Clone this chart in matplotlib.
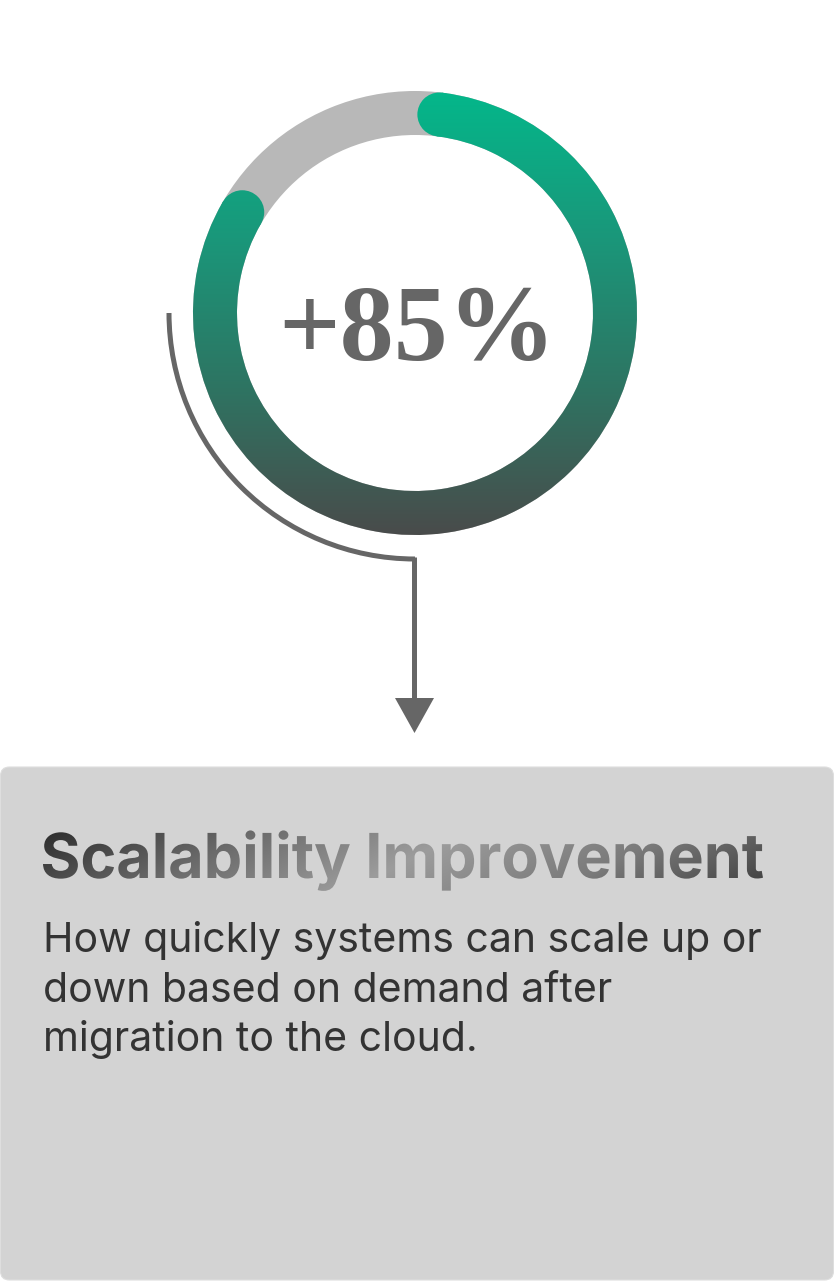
import numpy as np
import matplotlib
matplotlib.use("Agg")
import matplotlib.pyplot as plt
from matplotlib.patches import Wedge, Circle, FancyBboxPatch, PathPatch, Polygon, Arc
from matplotlib.textpath import TextPath
from matplotlib.font_manager import FontProperties
from matplotlib.colors import LinearSegmentedColormap
from matplotlib.transforms import Affine2D

# ---------------- data ----------------
value_pct = 85
value_label = "+85%"
title = "Scalability Improvement"
body_lines = ["How quickly systems can scale up or",
              "down based on demand after",
              "migration to the cloud."]

# ---------------- figure in pixel units ----------------
W, H = 834, 1281
fig = plt.figure(figsize=(W / 100, H / 100), dpi=100)
ax = fig.add_axes([0, 0, 1, 1])
ax.set_xlim(0, W)
ax.set_ylim(0, H)
ax.set_aspect("equal")
ax.axis("off")

def Y(y):  # convert top-down pixel to data
    return H - y

PX = 0.72  # points per pixel at dpi 100

# ---------------- gauge ----------------
cx, cy = 415, Y(313)
r_out, ring_w = 222, 44
r_mid = r_out - ring_w / 2
start_angle = 83.0             # degrees (math), near 12 o'clock
span_total = 345.0              # full gauge span
sweep = value_pct / 100 * span_total
end_angle = start_angle - sweep

# background ring
ax.add_patch(Wedge((cx, cy), r_out, 0, 360, width=ring_w, facecolor="#b8b8b8",
                   edgecolor="none", zorder=1))

# gradient image (vertical)
grad_cmap = LinearSegmentedColormap.from_list(
    "g", ["#03b88b", "#1a977a", "#2e7462", "#4a4a4a"])
top_y, bot_y = cy + r_out, cy - r_out
grad = np.linspace(0, 1, 256).reshape(-1, 1)
clips = [Wedge((cx, cy), r_out, end_angle, start_angle, width=ring_w)]
for a in (start_angle, end_angle):
    clips.append(Circle((cx + r_mid * np.cos(np.radians(a)),
                         cy + r_mid * np.sin(np.radians(a))), ring_w / 2))
for c in clips:
    c.set_transform(ax.transData)
    im = ax.imshow(grad, cmap=grad_cmap, aspect="auto",
                   extent=(cx - r_out - 5, cx + r_out + 5, bot_y - 5, top_y + 5),
                   origin="upper", zorder=2, interpolation="bicubic")
    im.set_clip_path(c)

# value text
ax.text(417, Y(360), value_label, ha="center", va="baseline",
        fontsize=108 * PX, family="Liberation Serif", fontweight="bold",
        color="#666666", zorder=3)

# ---------------- connector ----------------
line_c = "#666666"
r_conn = 246
ax.add_patch(Arc((cx, cy), 2 * r_conn, 2 * r_conn, theta1=180, theta2=270,
                 lw=5 * PX, color=line_c, zorder=2, capstyle="butt"))
ax.plot([cx - 0.5, cx - 0.5], [cy - r_conn + 2.5, Y(700)], color=line_c, lw=5 * PX,
        solid_capstyle="butt", zorder=2)
ax.add_patch(Polygon([[395, Y(698)], [434, Y(698)], [414.5, Y(733)]],
                     closed=True, facecolor=line_c, edgecolor="none", zorder=2))

# ---------------- card ----------------
ax.add_patch(FancyBboxPatch((0.5, Y(1280)), 833, 1280 - 767,
                            boxstyle="round,pad=0,rounding_size=9",
                            facecolor="#d3d3d3", edgecolor="#dedede", lw=0.8,
                            zorder=1))

# gradient title via clip path
fp = FontProperties(family="Inter", weight="bold")
title_size = 62
tp = TextPath((0, 0), title, size=title_size, prop=fp)
bb = tp.get_extents()
target_w = 720
sx = target_w / bb.width
tx, ty = 43, Y(878)
tr = Affine2D().translate(-bb.x0, 0).scale(sx, 1).translate(tx, ty)
tpatch = PathPatch(tr.transform_path(tp), facecolor="none", edgecolor="none")
tpatch.set_transform(ax.transData)
ax.add_patch(tpatch)
tcmap = LinearSegmentedColormap.from_list(
    "t", ["#2c2c2c", "#6a6a6a", "#9c9c9c", "#7a7a7a", "#3c3c3c"])
gx = np.linspace(0, 1, 400)
gy = np.linspace(0, 1, 60)
GX, GY = np.meshgrid(gx, gy)
T = np.clip(GX * 0.85 + GY * 0.15, 0, 1)
im2 = ax.imshow(T, cmap=tcmap, aspect="auto", origin="upper",
                extent=(tx - 2, tx + target_w + 2, Y(895), Y(830)), zorder=3,
                interpolation="bicubic")
im2.set_clip_path(tpatch)
# real text for the title (fill hidden under the gradient)
ax.text(tx, ty, title, fontsize=title_size * PX, family="Inter",
        fontweight="bold", color="none", va="baseline", ha="left", zorder=2)

# body
for i, line in enumerate(body_lines):
    ax.text(43, Y(952 + i * 49.5), line, fontsize=41 * PX, family="Inter",
            color="#333333", va="baseline", ha="left", zorder=3)

fig.savefig("out.png", dpi=100, facecolor="white")
